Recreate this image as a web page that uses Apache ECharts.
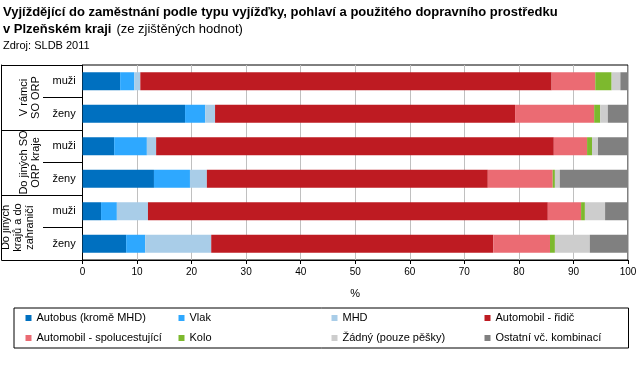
<!DOCTYPE html>
<html><head><meta charset="utf-8">
<script src="https://cdn.jsdelivr.net/npm/echarts@6/dist/echarts.min.js"></script>
<style>html,body{margin:0;padding:0;background:#fff}#c{width:641px;height:367px}</style>
</head><body><div id="c"></div>
<script>
const groups = ['V rámci\nSO ORP', 'Do jiných SO\nORP kraje', 'Do jiných\nkrajů a do\nzahraničí'];
const rows = ['muži', 'ženy', 'muži', 'ženy', 'muži', 'ženy'];
const seriesNames = ['Autobus (kromě MHD)', 'Vlak', 'MHD', 'Automobil - řidič',
  'Automobil - spolucestující', 'Kolo', 'Žádný (pouze pěšky)', 'Ostatní vč. kombinací'];
const autobus  = [6.9, 18.8, 5.8, 13.1, 3.4, 8.0];
const vlak     = [2.6, 3.7, 6.0, 6.6, 2.9, 3.5];
const mhd      = [1.1, 1.8, 1.7, 3.1, 5.7, 12.1];
const ridic    = [75.4, 55.0, 72.9, 51.5, 73.3, 51.7];
const spolu    = [8.0, 14.5, 6.1, 11.9, 6.1, 10.4];
const kolo     = [3.0, 1.1, 0.9, 0.4, 0.7, 0.9];
const zadny    = [1.6, 1.4, 1.1, 0.9, 3.7, 6.4];
const ostatni  = [1.4, 3.7, 5.5, 12.5, 4.2, 7.0];
const colors = ['#0070C0', '#2EA8FF', '#A9CDE8', '#BE1B22', '#EB6B73', '#7DB92E', '#CDCDCD', '#808080'];
const xMin = 0, xMax = 100, xStep = 10;

const FONT = "'Liberation Sans', Arial, sans-serif";
const values = [autobus, vlak, mhd, ridic, spolu, kolo, zadny, ostatni];

const chart = echarts.init(document.getElementById('c'), null, {renderer: 'canvas'});
chart.setOption({
  animation: false,
  textStyle: {fontFamily: FONT},
  title: {
    left: 3, top: 4, itemGap: 3, padding: 0,
    text: '{b|Vyjíždějící do zaměstnání podle typu vyjížďky, pohlaví a použitého dopravního prostředku}\n{b|v Plzeňském kraji} {n|(ze zjištěných hodnot)}',
    textStyle: {
      fontFamily: FONT,
      rich: {
        b: {fontWeight: 'bold', fontSize: 13, color: '#000', lineHeight: 16, fontFamily: FONT},
        n: {fontWeight: 'normal', fontSize: 13, color: '#000', lineHeight: 16, fontFamily: FONT}
      }
    },
    subtext: 'Zdroj: SLDB 2011',
    subtextStyle: {fontSize: 11, color: '#000', lineHeight: 13, fontFamily: FONT}
  },
  legend: {
    left: 14, top: 308, width: 600,
    padding: [0, 13, 0, 11.5],
    itemGap: 0, itemWidth: 6, itemHeight: 6, icon: 'rect',
    borderColor: '#000', borderWidth: 1,
    textStyle: {fontSize: 11, color: '#000', width: 142, lineHeight: 20, fontFamily: FONT},
    data: seriesNames.map((n, i) => (i % 4 === 3 ? {name: n, textStyle: {width: 120}} : {name: n}))
  },
  grid: {left: 82, right: 13, top: 65, bottom: 107, show: true, borderColor: '#000', borderWidth: 1},
  xAxis: {
    type: 'value', min: xMin, max: xMax, interval: xStep,
    axisLine: {show: true, lineStyle: {color: '#000'}},
    axisTick: {show: true, length: 4, lineStyle: {color: '#000'}},
    splitLine: {show: true, lineStyle: {color: '#c0c0c0'}},
    axisLabel: {fontSize: 10, color: '#000', margin: 7},
    name: '%', nameLocation: 'middle', nameGap: 28,
    nameTextStyle: {fontSize: 11, color: '#000'}
  },
  yAxis: [
    {
      type: 'category', data: rows, inverse: true, position: 'left',
      axisLine: {show: true, lineStyle: {color: '#000'}},
      axisTick: {show: true, length: 39.5, lineStyle: {color: '#000'}},
      axisLabel: {align: 'left', margin: 30, fontSize: 11, color: '#000', interval: 0},
      splitLine: {show: false}
    },
    {
      type: 'category', inverse: true, position: 'left', offset: 81,
      data: groups,
      axisLine: {show: true, lineStyle: {color: '#000'}},
      axisTick: {show: true, inside: true, length: 81, lineStyle: {color: '#000'}},
      axisLabel: {inside: true, rotate: 90, margin: 28.5, verticalAlign: 'middle', fontSize: 11, lineHeight: 12,
        color: '#000', interval: 0, hideOverlap: false,
        formatter: (v, i) => (v.split('\n').length > 2 ? v + '\n \n ' : v)},
      splitLine: {show: false}
    }
  ],
  series: values.map((v, i) => ({
    name: seriesNames[i], type: 'bar', stack: 'all', yAxisIndex: 0,
    barWidth: 18, itemStyle: {color: colors[i]}, data: v
  }))
});
</script></body></html>
